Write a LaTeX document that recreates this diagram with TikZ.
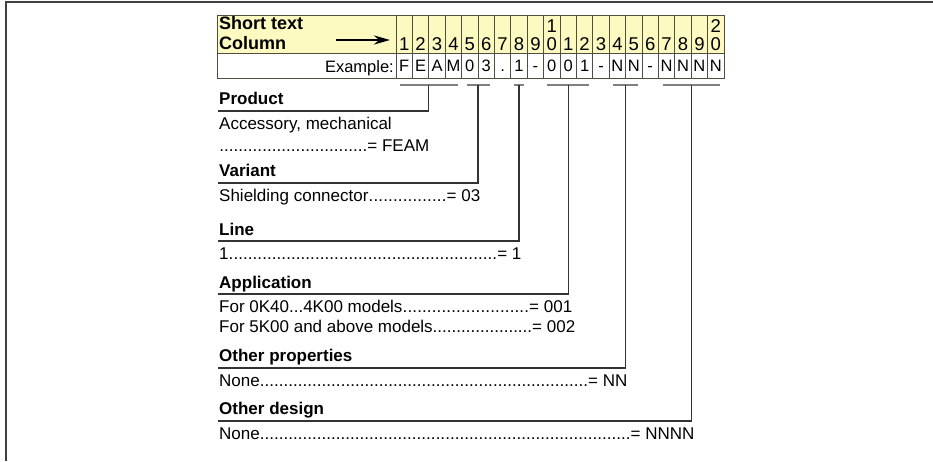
\documentclass[tikz,border=0pt]{standalone}
\usepackage{fontspec}
\setmainfont{Liberation Sans}
\usetikzlibrary{arrows.meta}

\definecolor{rowyellow}{RGB}{252,250,192}
\definecolor{gridgray}{RGB}{80,78,60}
\newcommand{\dotrow}{\xleaders\hbox{.}\hfill}
\tikzset{
  txt/.style={inner sep=0pt, anchor=west, font=\fontsize{17}{20}\selectfont, text height=12.2pt, text depth=0pt},
  headtxt/.style={txt, font=\fontsize{17}{20}\selectfont\bfseries},
  tabhead/.style={txt, font=\fontsize{18}{21}\selectfont\bfseries},
  digit/.style={inner sep=0pt, font=\fontsize{18.5}{21}\selectfont, text height=13.3pt, text depth=0pt},
  exchar/.style={digit, font=\fontsize{16.5}{19}\selectfont, text height=11.8pt},
  gridline/.style={gridgray, line width=0.9pt},
  markline/.style={black!50, line width=1.3pt},
  leadline/.style={black!80, line width=1.2pt},
}

\begin{document}
\begin{tikzpicture}[x=1pt, y=-1pt]
\useasboundingbox (0,0) rectangle (933,461);
\draw[black!75, line width=1.4pt] (933,2) -- (6,2) -- (6,461);
\fill[rowyellow] (217,15) rectangle (724,53);
\draw[gridline] (396,15) -- (396,78);
\draw[gridline] (412.4,15) -- (412.4,78);
\draw[gridline] (428.8,15) -- (428.8,78);
\draw[gridline] (445.2,15) -- (445.2,78);
\draw[gridline] (461.6,15) -- (461.6,78);
\draw[gridline] (478,15) -- (478,78);
\draw[gridline] (494.4,15) -- (494.4,78);
\draw[gridline] (510.8,15) -- (510.8,78);
\draw[gridline] (527.2,15) -- (527.2,78);
\draw[gridline] (543.6,15) -- (543.6,78);
\draw[gridline] (560,15) -- (560,78);
\draw[gridline] (576.4,15) -- (576.4,78);
\draw[gridline] (592.8,15) -- (592.8,78);
\draw[gridline] (609.2,15) -- (609.2,78);
\draw[gridline] (625.6,15) -- (625.6,78);
\draw[gridline] (642,15) -- (642,78);
\draw[gridline] (658.4,15) -- (658.4,78);
\draw[gridline] (674.8,15) -- (674.8,78);
\draw[gridline] (691.2,15) -- (691.2,78);
\draw[gridline] (707.6,15) -- (707.6,78);
\draw[gridline] (217,53) -- (724,53);
\draw[gridline] (217,15) rectangle (724,78);
\node[tabhead] (shorttext) at (219,23) {Short text};
\node[tabhead] (column) at (219,43) {Column};
\coordinate (arrowtail) at (336,40);
\coordinate (arrowtip) at (390,40);
\draw[line width=2.4pt, -{Stealth[length=16pt, width=9pt]}] (arrowtail) -- (arrowtip);
\node[digit] (num1) at (404.2,44) {1};
\node[digit] (num2) at (420.6,44) {2};
\node[digit] (num3) at (437,44) {3};
\node[digit] (num4) at (453.4,44) {4};
\node[digit] (num5) at (469.8,44) {5};
\node[digit] (num6) at (486.2,44) {6};
\node[digit] (num7) at (502.6,44) {7};
\node[digit] (num8) at (519,44) {8};
\node[digit] (num9) at (535.4,44) {9};
\node[digit] (num10) at (551.8,44) {0};
\node[digit] (num11) at (568.2,44) {1};
\node[digit] (num12) at (584.6,44) {2};
\node[digit] (num13) at (601,44) {3};
\node[digit] (num14) at (617.4,44) {4};
\node[digit] (num15) at (633.8,44) {5};
\node[digit] (num16) at (650.2,44) {6};
\node[digit] (num17) at (666.6,44) {7};
\node[digit] (num18) at (683,44) {8};
\node[digit] (num19) at (699.4,44) {9};
\node[digit] (num20) at (715.8,44) {0};
\node[digit] (tens10) at (551.8,26) {1};
\node[digit] (tens20) at (715.8,26) {2};
\node[txt, anchor=east, font=\fontsize{16.5}{19}\selectfont] (exlabel) at (394,66) {Example:};
\node[exchar] (ex1) at (404.2,66) {F};
\node[exchar] (ex2) at (420.6,66) {E};
\node[exchar] (ex3) at (437,66) {A};
\node[exchar] (ex4) at (453.4,66) {M};
\node[exchar] (ex5) at (469.8,66) {0};
\node[exchar] (ex6) at (486.2,66) {3};
\node[exchar] (ex7) at (502.6,66) {.};
\node[exchar] (ex8) at (519,66) {1};
\node[exchar] (ex9) at (535.4,66) {-};
\node[exchar] (ex10) at (551.8,66) {0};
\node[exchar] (ex11) at (568.2,66) {0};
\node[exchar] (ex12) at (584.6,66) {1};
\node[exchar] (ex13) at (601,66) {-};
\node[exchar] (ex14) at (617.4,66) {N};
\node[exchar] (ex15) at (633.8,66) {N};
\node[exchar] (ex16) at (650.2,66) {-};
\node[exchar] (ex17) at (666.6,66) {N};
\node[exchar] (ex18) at (683,66) {N};
\node[exchar] (ex19) at (699.4,66) {N};
\node[exchar] (ex20) at (715.8,66) {N};
\draw[markline] (400,85) -- (458,85);
\draw[markline] (467,85) -- (490,85);
\draw[markline] (514,85) -- (524,85);
\draw[markline] (547,85) -- (589,85);
\draw[markline] (613,85) -- (638,85);
\draw[markline] (663,85) -- (720,85);
\node[headtxt] (product) at (219,98) {Product};
\node[txt] (producta) at (219,123) {Accessory, mechanical};
\node[txt] (productb) at (219,145) {\hbox to 210pt{\dotrow= FEAM}};
\coordinate (productmark) at (428.8,85);
\coordinate (productend) at (218,111);
\draw[leadline] (productmark) |- (productend);
\node[headtxt] (variant) at (219,170) {Variant};
\node[txt] (varianta) at (219,195) {\hbox to 261pt{Shielding connector\dotrow= 03}};
\coordinate (variantmark) at (478,85);
\coordinate (variantend) at (218,183);
\draw[leadline] (variantmark) |- (variantend);
\node[headtxt] (line) at (219,229) {Line};
\node[txt] (linea) at (219,253) {\hbox to 302pt{1\dotrow= 1}};
\coordinate (linemark) at (519,85);
\coordinate (lineend) at (218,241);
\draw[leadline] (linemark) |- (lineend);
\node[headtxt] (application) at (219,282) {Application};
\node[txt] (applicationa) at (219,306) {\hbox to 353pt{For 0K40...4K00 models\dotrow= 001}};
\node[txt] (applicationb) at (219,326) {\hbox to 356pt{For 5K00 and above models\dotrow= 002}};
\coordinate (applicationmark) at (568.2,85);
\coordinate (applicationend) at (218,294);
\draw[leadline] (applicationmark) |- (applicationend);
\node[headtxt] (otherprop) at (219,355) {Other properties};
\node[txt] (otherpropa) at (219,380) {\hbox to 408pt{None\dotrow= NN}};
\coordinate (otherpropmark) at (625.6,85);
\coordinate (otherpropend) at (218,368);
\draw[leadline] (otherpropmark) |- (otherpropend);
\node[headtxt] (otherdesign) at (219,408) {Other design};
\node[txt] (otherdesigna) at (219,433) {\hbox to 475pt{None\dotrow= NNNN}};
\coordinate (otherdesignmark) at (691.2,85);
\coordinate (otherdesignend) at (218,421);
\draw[leadline] (otherdesignmark) |- (otherdesignend);
\end{tikzpicture}
\end{document}
